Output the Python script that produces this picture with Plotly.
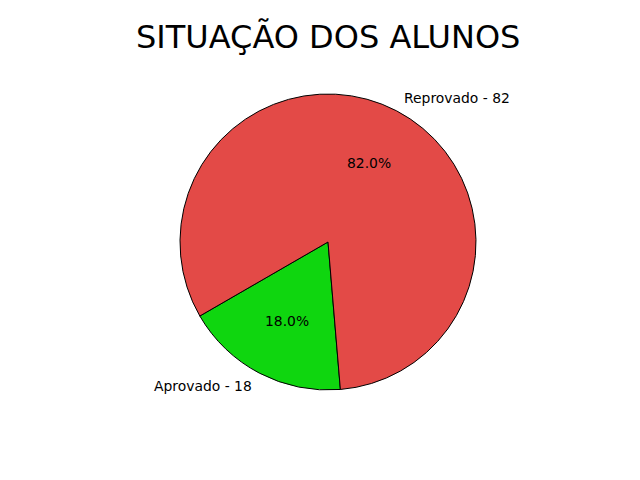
import math
import plotly.graph_objects as go

labels = ["Aprovado", "Reprovado"]
values = [18, 82]
colors = ["#0fd60f", "#e34a47"]
title = "SITUAÇÃO DOS ALUNOS"

W, H = 640, 480
cx, cy, r = 328, 242, 148  # pixels, layout only
start_deg = 210  # math angle (ccw from 3 o'clock)

total = sum(values)
first_span = 360 * values[0] / total
# plotly counterclockwise: first slice ends at `rotation` (clockwise from 12 o'clock)
rot = 90 - (start_deg + first_span)
while rot < -360:
    rot += 360
while rot > 360:
    rot -= 360

fig = go.Figure()
fig.add_trace(go.Pie(
    labels=labels, values=values, sort=False, direction="counterclockwise",
    rotation=rot, textinfo="none", hoverinfo="label+value+percent",
    marker=dict(colors=colors, line=dict(color="black", width=1)),
    domain=dict(x=[(cx - r) / W, (cx + r) / W], y=[1 - (cy + r) / H, 1 - (cy - r) / H]),
    showlegend=False,
))

ang = start_deg
annotations = []
for lab, v in zip(labels, values):
    span = 360 * v / total
    mid = math.radians(ang + span / 2)
    ang += span
    px = cx + 0.6 * r * math.cos(mid)
    py = cy - 0.6 * r * math.sin(mid)
    annotations.append(dict(x=px / W, y=1 - py / H, xref="paper", yref="paper",
                            text=f"{100 * v / total:.1f}%", showarrow=False,
                            xanchor="center", yanchor="middle", borderpad=0,
                            font=dict(family="DejaVu Sans", size=13.9, color="black")))
    lx = cx + 1.1 * r * math.cos(mid)
    ly = cy - 1.1 * r * math.sin(mid)
    annotations.append(dict(x=lx / W, y=1 - ly / H, xref="paper", yref="paper",
                            text=f"{lab} - {v}", showarrow=False, borderpad=0,
                            xanchor="left" if math.cos(mid) > 0 else "right", yanchor="middle",
                            font=dict(family="DejaVu Sans", size=13.9, color="black")))

annotations.append(dict(x=cx / W, y=1 - 37 / H, xref="paper", yref="paper", text=title,
                        showarrow=False, xanchor="center", yanchor="middle",
                        font=dict(family="DejaVu Sans", size=32, color="black")))

fig.update_layout(width=W, height=H, margin=dict(l=0, r=0, t=0, b=0),
                  paper_bgcolor="white", plot_bgcolor="white", annotations=annotations)
fig.write_html("out.html")
